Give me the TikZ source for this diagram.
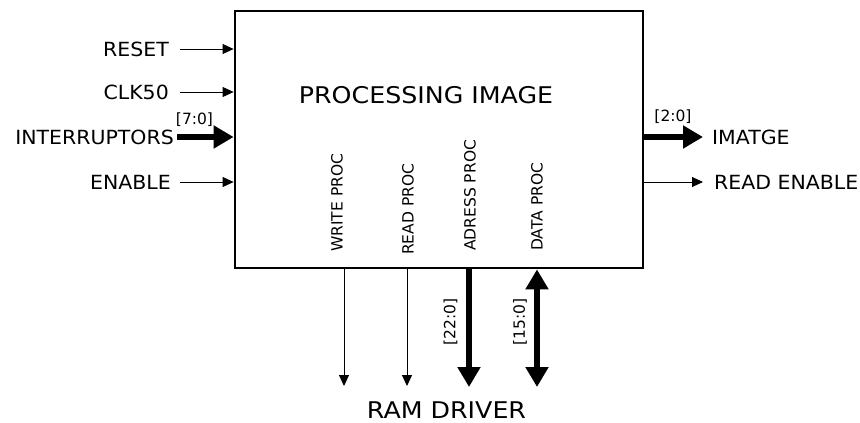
\documentclass[tikz,border=0pt]{standalone}
\usepackage{fontspec}
\setmainfont{DejaVu Sans}
\newfontfamily\lblfont[FakeStretch=1.05]{DejaVu Sans}
\newfontfamily\ttlfont[FakeStretch=1.1]{DejaVu Sans}
\usetikzlibrary{arrows.meta}
\begin{document}
\begin{tikzpicture}[x=1pt,y=-1pt,
  lbl/.style={font=\lblfont\fontsize{19.5}{22}\selectfont, inner sep=0pt},
  small/.style={font=\fontsize{15.5}{17}\selectfont, inner sep=0pt},
  ttl/.style={font=\ttlfont\fontsize{23}{25}\selectfont, inner sep=0pt},
  thin/.style={line width=0.9pt, -{Triangle[length=11pt,width=10pt]}},
  bus/.style={line width=6pt, -{Triangle[length=20pt,width=22pt]}},
  bibus/.style={line width=6pt, {Triangle[length=20pt,width=22pt]}-{Triangle[length=20pt,width=22pt]}}]
\useasboundingbox (0,0) rectangle (860,423);
\node[draw, line width=2.8pt, minimum width=408pt, minimum height=257pt, inner sep=0pt] (box) at (439,139.5) {};
\node[ttl] (title) at (426,95) {PROCESSING IMAGE};
% inputs
\node[lbl, anchor=east] (reset) at (169,49) {RESET};
\node[lbl, anchor=east] (clk) at (169,92) {CLK50};
\node[lbl, anchor=east] (intr) at (174,137) {INTERRUPTORS};
\node[lbl, anchor=east] (en) at (171,182) {ENABLE};
\coordinate (resetS) at (180,49);
\coordinate (clkS) at (180,92);
\coordinate (intrS) at (177,137);
\coordinate (enS) at (180,182);
\draw[thin] (resetS) -- (resetS -| box.west);
\draw[thin] (clkS) -- (clkS -| box.west);
\draw[bus] (intrS) -- (intrS -| box.west);
\draw[thin] (enS) -- (enS -| box.west);
\node[small] (w7) at (194.5,120) {[7:0]};
% outputs
\node[lbl, anchor=west] (imatge) at (712,137) {IMATGE};
\node[lbl, anchor=west] (rden) at (714,182) {READ ENABLE};
\coordinate (imE) at (703,137);
\coordinate (rdE) at (703,182);
\draw[bus] (imE -| box.east) -- (imE);
\draw[thin] (rdE -| box.east) -- (rdE);
\node[small] (w2) at (673,117) {[2:0]};
% internal rotated labels
\node[small, rotate=90, anchor=west] (wp) at (337,252) {WRITE PROC};
\node[small, rotate=90, anchor=west] (rp) at (408,255) {READ PROC};
\node[small, rotate=90, anchor=west] (ap) at (470,251) {ADRESS PROC};
\node[small, rotate=90, anchor=west] (dp) at (537,251) {DATA PROC};
% bottom arrows
\coordinate (wE) at (344,386);
\coordinate (rE) at (407,386);
\coordinate (aE) at (469,387);
\coordinate (dE) at (537,387);
\draw[thin] (wE |- box.south) -- (wE);
\draw[thin] (rE |- box.south) -- (rE);
\draw[bus] (aE |- box.south) -- (aE);
\draw[bibus] (dE |- box.south) -- (dE);
\node[small, rotate=90] (w22) at (450.5,322) {[22:0]};
\node[small, rotate=90] (w15) at (520,322) {[15:0]};
\node[ttl] (ram) at (446.5,410.5) {RAM DRIVER};
\end{tikzpicture}
\end{document}
